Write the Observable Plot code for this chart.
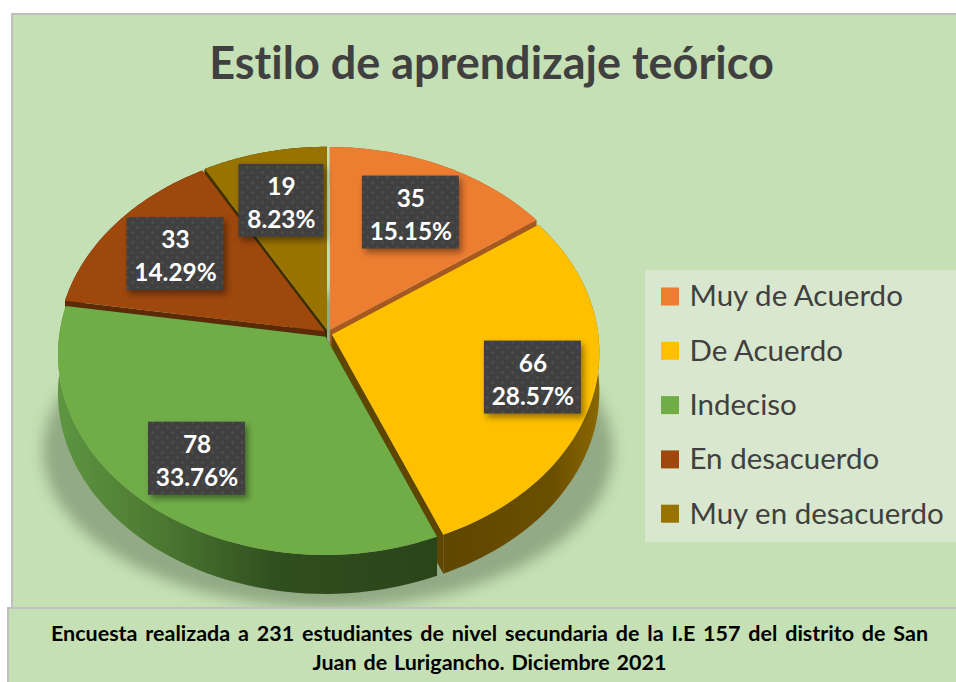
<!DOCTYPE html>
<html>
<head>
<meta charset="utf-8">
<script src="https://cdn.jsdelivr.net/npm/d3@7"></script>
<script src="https://cdn.jsdelivr.net/npm/@observablehq/plot@0.6"></script>
<style>html,body{margin:0;padding:0;background:#fff}svg{display:block}</style>
</head>
<body>
<div id="chart"></div>
<script>
const title = "Estilo de aprendizaje teórico";
const captionLines = [
  "Encuesta realizada a 231 estudiantes de nivel secundaria de la I.E 157 del distrito de San",
  "Juan de Lurigancho. Diciembre 2021"
];
const categories = ["Muy de Acuerdo", "De Acuerdo", "Indeciso", "En desacuerdo", "Muy en desacuerdo"];
const counts = [35, 66, 78, 33, 19];
const percents = ["15.15%", "28.57%", "33.76%", "14.29%", "8.23%"];
const colors = ["#ed7d31", "#ffc000", "#70ad47", "#9e480e", "#997300"];
const wallColors = ["#a5581f", "url(#wallYellow)", "url(#wallGreen)", "#5c2a06", "#423200"];
const cutColors = ["#a5581f", "#5f4600", "#2f4c1d", "#5c2a06", "#3d2e00"];
const labelRadius = [0.70, 0.77, 0.74, 0.705, 0.71];
const paintOrder = [4, 0, 3, 1, 2];

const W = 956, H = 682;
const cx = 327.5, cy = 333, R = 266.5, S = 199, k = 0.0883, depth = 39, explode = 4;
const total = d3.sum(counts);
const edges = [0, ...d3.cumsum(counts)].map(c => c / total * 2 * Math.PI);

function project(theta, r, ox, oy) {
  const u = r * Math.sin(theta), v = r * Math.cos(theta), d = 1 + k * v;
  return {x: cx + ox + R * u / d, y: cy + oy - S * v / d};
}
const slices = counts.map((c, i) => {
  const a0 = edges[i], a1 = edges[i + 1], mid = (a0 + a1) / 2;
  const ox = explode * Math.sin(mid), oy = -explode * Math.cos(mid);
  const arc = d3.range(0, 61).map(j => project(a0 + (a1 - a0) * j / 60, 1, ox, oy));
  const apex = {x: cx + ox, y: cy + oy};
  const down = p => ({x: p.x, y: p.y + depth});
  return {
    i, arc, apex,
    top: [apex, ...arc],
    wall: [...arc, ...arc.map(down).reverse()],
    cutA: [apex, arc[0], down(arc[0]), down(apex)],
    cutB: [apex, arc[60], down(arc[60]), down(apex)],
    label: project(mid, labelRadius[i], ox, oy)
  };
});

// the shadow falls on the floor, so it is flatter and wider than the pie's top face
const shadowRing = d3.range(0, 121).map(j => {
  const t = j / 120 * 2 * Math.PI;
  return {x: cx + 285 * Math.sin(t), y: 450 - 157 * Math.cos(t)};
});

const labelBoxes = slices.map(s => {
  const w = 25 + 12 * percents[s.i].length, h = 73;
  return {x1: s.label.x - w / 2, x2: s.label.x + w / 2, y1: s.label.y - h / 2, y2: s.label.y + h / 2,
          x: s.label.x, y: s.label.y, text: counts[s.i] + "\n" + percents[s.i]};
});

const legendRows = categories.map((name, i) => ({name, color: colors[i], y: 296.5 + i * 54.3}));

const defs = () => {
  const d = document.createElementNS("http://www.w3.org/2000/svg", "defs");
  d.innerHTML = `
  <linearGradient id="wallGreen" gradientUnits="userSpaceOnUse" x1="60" y1="0" x2="430" y2="0">
    <stop offset="0" stop-color="#5d9540"/><stop offset="0.3" stop-color="#4a7530"/>
    <stop offset="0.58" stop-color="#304f1e"/><stop offset="1" stop-color="#2b451a"/>
  </linearGradient>
  <linearGradient id="wallYellow" gradientUnits="userSpaceOnUse" x1="440" y1="0" x2="600" y2="0">
    <stop offset="0" stop-color="#5f4600"/><stop offset="0.7" stop-color="#6b4f00"/>
    <stop offset="1" stop-color="#8a6800"/>
  </linearGradient>
  <radialGradient id="dot"><stop offset="0" stop-color="#525252"/><stop offset="1" stop-color="#404040"/></radialGradient>
  <pattern id="labelDots" patternUnits="userSpaceOnUse" width="10" height="10">
    <rect width="10" height="10" fill="#404040"/>
    <circle cx="2.5" cy="2.5" r="2.2" fill="url(#dot)"/>
    <circle cx="7.5" cy="7.5" r="2.2" fill="url(#dot)"/>
  </pattern>`;
  return d;
};

const poly = (pts, fill, extra = {}) =>
  Plot.line(pts, {x: "x", y: "y", fill, stroke: "none", ...extra});

const sliceMarks = paintOrder.flatMap(i => {
  const s = slices[i];
  return [
    poly(s.cutA, cutColors[i]),
    poly(s.cutB, cutColors[i]),
    poly(s.wall, wallColors[i]),
    poly(s.top, colors[i])
  ];
});

const font = "Lato, Carlito, sans-serif";
const wordGaps = [2.6, 1.6];
const spaceWords = (index, scales, values, dims, ctx, next) => {
  const g = next(index, scales, values, dims, ctx);
  g.querySelectorAll("text").forEach((t, i) => t.setAttribute("word-spacing", wordGaps[i]));
  return g;
};
const chart = Plot.plot({
  width: W, height: H, margin: 0,
  x: {domain: [0, W], range: [0, W], axis: null},
  y: {domain: [0, H], range: [0, H], axis: null},
  style: {background: "transparent", fontFamily: font, fontVariantLigatures: "none"},
  marks: [
    defs,
    // chart panel and its grey border
    Plot.rect([{}], {x1: 12, x2: W + 4, y1: 14, y2: H + 4, fill: "#c5e0b4", stroke: "#bfbfbf", strokeWidth: 2}),
    Plot.text([title], {x: 491, y: 64, text: d => d, fontSize: 45, fontWeight: 700, fill: "#404040", lineAnchor: "middle", fontFamily: font}),
    // soft shadow under the pie
    poly(shadowRing, "#5f7355", {fillOpacity: 0.5, imageFilter: "blur(7px)"}),
    ...sliceMarks,
    // data labels
    Plot.rect(labelBoxes, {x1: "x1", x2: "x2", y1: "y1", y2: "y2", fill: "url(#labelDots)",
      imageFilter: "drop-shadow(3px 4px 3px rgba(0,0,0,0.4))"}),
    Plot.text(labelBoxes, {x: "x", y: "y", text: "text", fill: "white", fontWeight: 700, fontSize: 24.4, lineHeight: 1.35, lineAnchor: "middle", fontFamily: font}),
    // legend
    Plot.rect([{}], {x1: 645, x2: W, y1: 270, y2: 542, fill: "#d8e7cd"}),
    Plot.rect(legendRows, {x1: 661, x2: 679, y1: d => d.y - 9, y2: d => d.y + 9, fill: "color"}),
    Plot.text(legendRows, {x: 689, y: "y", text: "name", textAnchor: "start", lineAnchor: "middle", fontSize: 29.5, fill: "#404040", fontFamily: font}),
    // caption box
    Plot.rect([{}], {x1: 8, x2: W + 4, y1: 608, y2: H + 4, fill: "#c5e0b4", stroke: "#bfbfbf", strokeWidth: 2}),
    Plot.text(captionLines, {x: 489, y: (d, i) => 634 + i * 29, text: d => d, fontSize: 21.5, fontWeight: 700, fill: "black", lineAnchor: "middle", fontFamily: font, render: spaceWords})
  ]
});
document.getElementById("chart").append(chart);
</script>
</body>
</html>
